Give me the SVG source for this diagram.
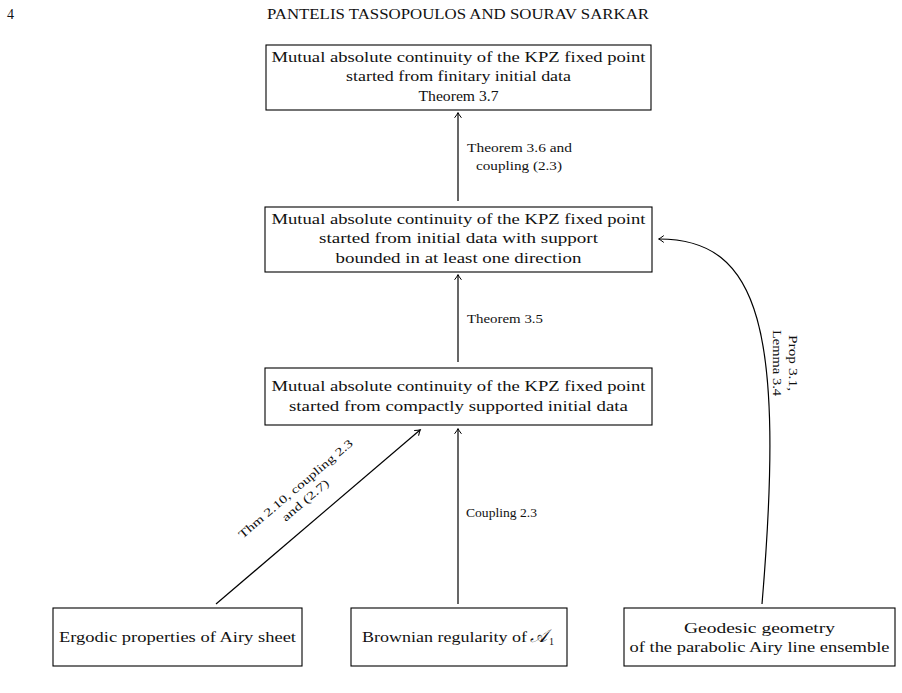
<svg xmlns="http://www.w3.org/2000/svg" width="902" height="693" viewBox="0 0 902 693">
<style>
  .box{fill:#fff;stroke:#000;stroke-width:1.1}
  .t{font-family:"Liberation Serif","Times New Roman",serif;font-size:14.5px;fill:#111;text-anchor:middle}
  .l{font-family:"Liberation Serif","Times New Roman",serif;font-size:11.5px;fill:#111}
  .h{font-family:"Liberation Serif","Times New Roman",serif;font-size:14px;fill:#111}
  .c{fill:none;stroke:#000;stroke-width:1.2;marker-end:url(#arr)}
</style>
<defs>
  <marker id="arr" viewBox="-6 -4 8 8" refX="0" refY="0" markerWidth="8" markerHeight="8" markerUnits="userSpaceOnUse" orient="auto">
    <path d="M-4.5,-3.2 Q-1.5,-0.8 0.5,0 Q-1.5,0.8 -4.5,3.2" fill="none" stroke="#000" stroke-width="1" stroke-linecap="round"/>
  </marker>
</defs>
<rect width="902" height="693" fill="#fff"/>
<g id="header">
  <text class="h" x="7" y="19">4</text>
  <text class="h" x="267" y="19" textLength="382" lengthAdjust="spacingAndGlyphs">PANTELIS TASSOPOULOS AND SOURAV SARKAR</text>
</g>
<g id="connectors">
  <line class="c" x1="458" y1="201" x2="458" y2="113"/>
  <line class="c" x1="458" y1="362" x2="458" y2="275"/>
  <line class="c" x1="458" y1="604" x2="458" y2="429"/>
  <line class="c" x1="216" y1="604" x2="420" y2="430"/>
  <path class="c" d="M762,604 C785,330 760,239 659,239"/>
  <text class="l" x="467" y="152" textLength="105" lengthAdjust="spacingAndGlyphs">Theorem 3.6 and</text>
  <text class="l" x="476" y="170" textLength="86" lengthAdjust="spacingAndGlyphs">coupling (2.3)</text>
  <text class="l" x="467" y="323" textLength="76" lengthAdjust="spacingAndGlyphs">Theorem 3.5</text>
  <text class="l" x="466" y="517" textLength="71" lengthAdjust="spacingAndGlyphs">Coupling 2.3</text>
  <g transform="translate(300,494) rotate(-40.3)">
    <text class="l" x="0" y="-3" text-anchor="middle" textLength="146" lengthAdjust="spacingAndGlyphs">Thm 2.10, coupling 2.3</text>
    <text class="l" x="0" y="12" text-anchor="middle" textLength="58" lengthAdjust="spacingAndGlyphs">and (2.7)</text>
  </g>
  <g transform="translate(789,363) rotate(90)">
    <text class="l" x="0" y="0" text-anchor="middle" textLength="56" lengthAdjust="spacingAndGlyphs">Prop 3.1,</text>
    <text class="l" x="0" y="16" text-anchor="middle" textLength="66" lengthAdjust="spacingAndGlyphs">Lemma 3.4</text>
  </g>
</g>
<g id="n-finitary">
  <rect class="box" x="266" y="45" width="385" height="65"/>
  <text class="t" x="458.5" y="61.5" textLength="374" lengthAdjust="spacingAndGlyphs">Mutual absolute continuity of the KPZ fixed point</text>
  <text class="t" x="458.5" y="81" textLength="225" lengthAdjust="spacingAndGlyphs">started from finitary initial data</text>
  <text class="t" x="458.5" y="100.5" textLength="80" lengthAdjust="spacingAndGlyphs">Theorem 3.7</text>
</g>
<g id="n-bounded">
  <rect class="box" x="265" y="207" width="387" height="65"/>
  <text class="t" x="458.5" y="223.5" textLength="374" lengthAdjust="spacingAndGlyphs">Mutual absolute continuity of the KPZ fixed point</text>
  <text class="t" x="458.5" y="243" textLength="279" lengthAdjust="spacingAndGlyphs">started from initial data with support</text>
  <text class="t" x="458.5" y="262.5" textLength="246" lengthAdjust="spacingAndGlyphs">bounded in at least one direction</text>
</g>
<g id="n-compact">
  <rect class="box" x="265" y="368" width="387" height="57"/>
  <text class="t" x="458.5" y="391" textLength="374" lengthAdjust="spacingAndGlyphs">Mutual absolute continuity of the KPZ fixed point</text>
  <text class="t" x="458.5" y="410.5" textLength="339" lengthAdjust="spacingAndGlyphs">started from compactly supported initial data</text>
</g>
<g id="n-ergodic">
  <rect class="box" x="53" y="608" width="249" height="58"/>
  <text class="t" x="177.5" y="642" textLength="237" lengthAdjust="spacingAndGlyphs">Ergodic properties of Airy sheet</text>
</g>
<g id="n-brownian">
  <rect class="box" x="351" y="608" width="216" height="58"/>
  <text class="t" x="362" y="642" style="text-anchor:start" textLength="165" lengthAdjust="spacingAndGlyphs">Brownian regularity of</text>
  <text class="t" x="530" y="642" style="text-anchor:start;font-style:italic;font-size:18px">𝒜</text>
  <text class="t" x="549" y="645" style="text-anchor:start;font-size:10px">1</text>
</g>
<g id="n-geodesic">
  <rect class="box" x="624" y="608" width="271" height="58"/>
  <text class="t" x="759.5" y="632.5" textLength="151" lengthAdjust="spacingAndGlyphs">Geodesic geometry</text>
  <text class="t" x="759.5" y="652" textLength="260" lengthAdjust="spacingAndGlyphs">of the parabolic Airy line ensemble</text>
</g>
</svg>
